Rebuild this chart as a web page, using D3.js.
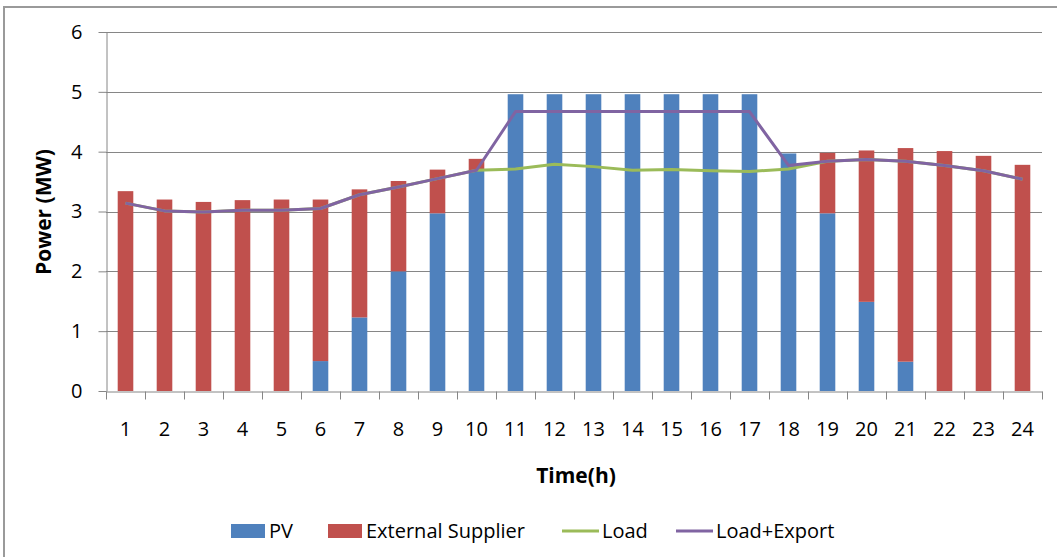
<!DOCTYPE html>
<html>
<head>
<meta charset="utf-8">
<script src="https://cdn.jsdelivr.net/npm/d3@7"></script>
<style>
  html, body { margin: 0; padding: 0; background: #fff; }
  svg { display: block; font-family: "Open Sans", "Liberation Sans", sans-serif; }
</style>
</head>
<body>
<svg id="chart" width="1057" height="557"></svg>
<script>
// Hourly power balance (MW)
const hours = ["1","2","3","4","5","6","7","8","9","10","11","12","13","14","15","16","17","18","19","20","21","22","23","24"];
const pv = [0, 0, 0, 0, 0, 0.5, 1.23, 2.0, 2.97, 3.69, 4.96, 4.96, 4.96, 4.96, 4.96, 4.96, 4.96, 3.97, 2.97, 1.49, 0.49, 0, 0, 0];
const externalSupplier = [3.34, 3.2, 3.16, 3.19, 3.2, 2.7, 2.14, 1.51, 0.73, 0.19, 0, 0, 0, 0, 0, 0, 0, 0, 1.01, 2.53, 3.57, 4.01, 3.93, 3.78];
const load = [3.14, 3.01, 2.99, 3.02, 3.02, 3.05, 3.28, 3.41, 3.55, 3.69, 3.71, 3.79, 3.75, 3.69, 3.7, 3.68, 3.67, 3.71, 3.84, 3.87, 3.84, 3.77, 3.68, 3.54];
const loadExport = [3.14, 3.01, 2.99, 3.02, 3.02, 3.05, 3.28, 3.41, 3.55, 3.69, 4.67, 4.67, 4.67, 4.67, 4.67, 4.67, 4.67, 3.77, 3.84, 3.87, 3.84, 3.77, 3.68, 3.54];
const yTicks = [0, 1, 2, 3, 4, 5, 6];

const colors = { pv: "#4F81BD", ext: "#C0504D", load: "#9BBB59", loadExport: "#8064A2" };
const axisGrey = "#868686";

const svg = d3.select("#chart");
const plotLeft = 106, plotRight = 1042, plotTop = 32, plotBottom = 391;

// outer chart border
svg.append("rect")
  .attr("x", 4).attr("y", 7).attr("width", 1100).attr("height", 600)
  .attr("fill", "none").attr("stroke", "#9a9a9a").attr("stroke-width", 2);

const x = d3.scaleBand().domain(hours).range([plotLeft, plotRight]).padding(0);
const xb = d3.scaleLinear().domain([0, hours.length]).range([plotLeft, plotRight]);
const y = d3.scaleLinear().domain([0, 6]).range([plotBottom, plotTop]);
const barW = x.bandwidth() / 2.5;

// horizontal gridlines
svg.append("g").selectAll("line").data(yTicks.filter(d => d > 0)).join("line")
  .attr("x1", plotLeft).attr("x2", plotRight)
  .attr("y1", d => Math.round(y(d)) + 0.5).attr("y2", d => Math.round(y(d)) + 0.5)
  .attr("stroke", axisGrey).attr("stroke-width", 1);

// stacked bars: PV at the bottom, external supplier on top
const gBars = svg.append("g");
gBars.selectAll("rect.pv").data(hours).join("rect").attr("class", "pv")
  .attr("x", d => x(d) + (x.bandwidth() - barW) / 2)
  .attr("width", barW)
  .attr("y", (d, i) => y(pv[i]))
  .attr("height", (d, i) => y(0) - y(pv[i]))
  .attr("fill", colors.pv);
gBars.selectAll("rect.ext").data(hours).join("rect").attr("class", "ext")
  .attr("x", d => x(d) + (x.bandwidth() - barW) / 2)
  .attr("width", barW)
  .attr("y", (d, i) => y(pv[i] + externalSupplier[i]))
  .attr("height", (d, i) => y(pv[i]) - y(pv[i] + externalSupplier[i]))
  .attr("fill", colors.ext);

// y axis
const yAxis = svg.append("g").attr("transform", `translate(${plotLeft + 0.5},0)`)
  .call(d3.axisLeft(y).tickValues(yTicks).tickFormat(d3.format("d")).tickSize(8).tickSizeOuter(0).tickPadding(16));
yAxis.selectAll("path, line").attr("stroke", axisGrey);
yAxis.selectAll("text").attr("font-size", 20).attr("fill", "#000").attr("font-family", "Open Sans");

// x axis: tick marks on category boundaries
const xTickAxis = svg.append("g").attr("transform", `translate(0,${plotBottom + 0.5})`)
  .call(d3.axisBottom(xb).tickValues(d3.range(0, hours.length + 1)).tickFormat("").tickSize(8).tickSizeOuter(0));
xTickAxis.selectAll("path, line").attr("stroke", axisGrey);

// x axis: category labels
const xLabelAxis = svg.append("g").attr("transform", `translate(0,${plotBottom})`)
  .call(d3.axisBottom(x).tickSize(0).tickPadding(31));
xLabelAxis.select(".domain").remove();
xLabelAxis.selectAll("text").attr("font-size", 20).attr("fill", "#000").attr("font-family", "Open Sans");

// lines
const line = d3.line().x((d, i) => x(hours[i]) + x.bandwidth() / 2).y(d => y(d));
svg.append("path").datum(load).attr("d", line)
  .attr("fill", "none").attr("stroke", colors.load).attr("stroke-width", 3).attr("stroke-linejoin", "round");
svg.append("path").datum(loadExport).attr("d", line)
  .attr("fill", "none").attr("stroke", colors.loadExport).attr("stroke-width", 3).attr("stroke-linejoin", "round");

// axis titles
svg.append("text").attr("x", 576).attr("y", 476).attr("dy", "0.35em")
  .attr("text-anchor", "middle").attr("font-size", 21).attr("font-weight", "bold").text("Time(h)");
svg.append("text").attr("transform", "translate(44,212) rotate(-90)").attr("dy", "0.35em")
  .attr("text-anchor", "middle").attr("font-size", 21).attr("font-weight", "bold").text("Power (MW)");

// legend
const legendY = 531;
const legend = svg.append("g");
const items = [
  { label: "PV", color: colors.pv, type: "rect", x: 231 },
  { label: "External Supplier", color: colors.ext, type: "rect", x: 328 },
  { label: "Load", color: colors.load, type: "line", x: 562 },
  { label: "Load+Export", color: colors.loadExport, type: "line", x: 676 }
];
items.forEach(it => {
  if (it.type === "rect") {
    legend.append("rect").attr("x", it.x).attr("y", legendY - 7).attr("width", 34).attr("height", 14).attr("fill", it.color);
  } else {
    legend.append("line").attr("x1", it.x).attr("x2", it.x + 37).attr("y1", legendY).attr("y2", legendY)
      .attr("stroke", it.color).attr("stroke-width", 3);
  }
  legend.append("text").attr("x", it.x + (it.type === "rect" ? 38 : 40)).attr("y", legendY).attr("dy", "0.35em")
    .attr("font-size", 20).attr("fill", "#000").text(it.label);
});
</script>
</body>
</html>
